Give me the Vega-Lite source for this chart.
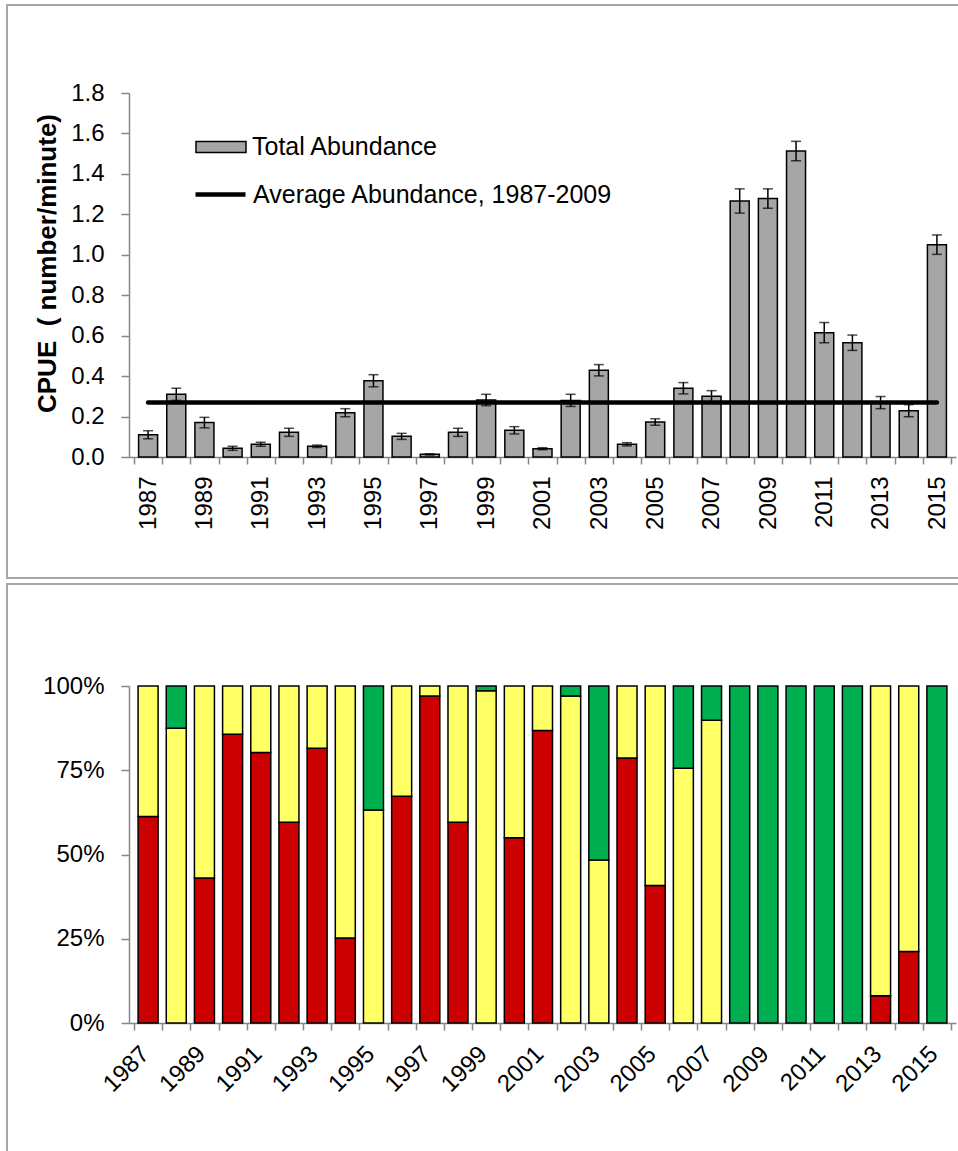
{
  "$schema": "https://vega.github.io/schema/vega-lite/v6.json",
  "padding": {"left": 6, "top": 4, "right": 0, "bottom": 0},
  "background": "white",
  "config": {
    "font": "Liberation Sans",
    "concat": {"spacing": 4},
    "axis": {"domainColor": "#868686", "tickColor": "#868686", "domainWidth": 1.5, "tickWidth": 1.5, "labelColor": "black", "labelFont": "Liberation Sans", "grid": false, "titleColor": "black", "labelFlush": false, "labelOverlap": false, "labelBound": false},
    "legend": {"labelFont": "Liberation Sans", "labelColor": "black", "labelLimit": 0}
  },
  "datasets": {
    "cpue": [
      {"year": 1987, "cpue": 0.110, "lo": 0.090, "hi": 0.130},
      {"year": 1988, "cpue": 0.310, "lo": 0.280, "hi": 0.340},
      {"year": 1989, "cpue": 0.170, "lo": 0.144, "hi": 0.196},
      {"year": 1990, "cpue": 0.043, "lo": 0.033, "hi": 0.053},
      {"year": 1991, "cpue": 0.063, "lo": 0.053, "hi": 0.073},
      {"year": 1992, "cpue": 0.122, "lo": 0.102, "hi": 0.142},
      {"year": 1993, "cpue": 0.053, "lo": 0.047, "hi": 0.059},
      {"year": 1994, "cpue": 0.219, "lo": 0.199, "hi": 0.239},
      {"year": 1995, "cpue": 0.377, "lo": 0.347, "hi": 0.407},
      {"year": 1996, "cpue": 0.102, "lo": 0.087, "hi": 0.117},
      {"year": 1997, "cpue": 0.013, "lo": 0.010, "hi": 0.016},
      {"year": 1998, "cpue": 0.122, "lo": 0.102, "hi": 0.142},
      {"year": 1999, "cpue": 0.282, "lo": 0.254, "hi": 0.310},
      {"year": 2000, "cpue": 0.132, "lo": 0.114, "hi": 0.150},
      {"year": 2001, "cpue": 0.041, "lo": 0.036, "hi": 0.046},
      {"year": 2002, "cpue": 0.280, "lo": 0.250, "hi": 0.310},
      {"year": 2003, "cpue": 0.429, "lo": 0.401, "hi": 0.457},
      {"year": 2004, "cpue": 0.063, "lo": 0.055, "hi": 0.071},
      {"year": 2005, "cpue": 0.173, "lo": 0.157, "hi": 0.189},
      {"year": 2006, "cpue": 0.340, "lo": 0.312, "hi": 0.368},
      {"year": 2007, "cpue": 0.300, "lo": 0.272, "hi": 0.328},
      {"year": 2008, "cpue": 1.266, "lo": 1.206, "hi": 1.326},
      {"year": 2009, "cpue": 1.278, "lo": 1.230, "hi": 1.326},
      {"year": 2010, "cpue": 1.513, "lo": 1.465, "hi": 1.561},
      {"year": 2011, "cpue": 0.615, "lo": 0.565, "hi": 0.665},
      {"year": 2012, "cpue": 0.565, "lo": 0.527, "hi": 0.603},
      {"year": 2013, "cpue": 0.269, "lo": 0.239, "hi": 0.299},
      {"year": 2014, "cpue": 0.229, "lo": 0.199, "hi": 0.259},
      {"year": 2015, "cpue": 1.050, "lo": 1.002, "hi": 1.098}
    ],
    "avg": [{"start": 1987, "end": 2015, "avg": 0.269}],
    "comp": [
      {"year": 1987, "cls": "Class 1", "pct": 61.3}, {"year": 1987, "cls": "Class 2", "pct": 38.7},
      {"year": 1988, "cls": "Class 2", "pct": 87.5}, {"year": 1988, "cls": "Class 3", "pct": 12.5},
      {"year": 1989, "cls": "Class 1", "pct": 43.0}, {"year": 1989, "cls": "Class 2", "pct": 57.0},
      {"year": 1990, "cls": "Class 1", "pct": 85.7}, {"year": 1990, "cls": "Class 2", "pct": 14.3},
      {"year": 1991, "cls": "Class 1", "pct": 80.3}, {"year": 1991, "cls": "Class 2", "pct": 19.7},
      {"year": 1992, "cls": "Class 1", "pct": 59.6}, {"year": 1992, "cls": "Class 2", "pct": 40.4},
      {"year": 1993, "cls": "Class 1", "pct": 81.5}, {"year": 1993, "cls": "Class 2", "pct": 18.5},
      {"year": 1994, "cls": "Class 1", "pct": 25.2}, {"year": 1994, "cls": "Class 2", "pct": 74.8},
      {"year": 1995, "cls": "Class 2", "pct": 63.2}, {"year": 1995, "cls": "Class 3", "pct": 36.8},
      {"year": 1996, "cls": "Class 1", "pct": 67.3}, {"year": 1996, "cls": "Class 2", "pct": 32.7},
      {"year": 1997, "cls": "Class 1", "pct": 97.0}, {"year": 1997, "cls": "Class 2", "pct": 3.0},
      {"year": 1998, "cls": "Class 1", "pct": 59.6}, {"year": 1998, "cls": "Class 2", "pct": 40.4},
      {"year": 1999, "cls": "Class 2", "pct": 98.6}, {"year": 1999, "cls": "Class 3", "pct": 1.4},
      {"year": 2000, "cls": "Class 1", "pct": 55.0}, {"year": 2000, "cls": "Class 2", "pct": 45.0},
      {"year": 2001, "cls": "Class 1", "pct": 86.8}, {"year": 2001, "cls": "Class 2", "pct": 13.2},
      {"year": 2002, "cls": "Class 2", "pct": 97.0}, {"year": 2002, "cls": "Class 3", "pct": 3.0},
      {"year": 2003, "cls": "Class 2", "pct": 48.4}, {"year": 2003, "cls": "Class 3", "pct": 51.6},
      {"year": 2004, "cls": "Class 1", "pct": 78.6}, {"year": 2004, "cls": "Class 2", "pct": 21.4},
      {"year": 2005, "cls": "Class 1", "pct": 40.8}, {"year": 2005, "cls": "Class 2", "pct": 59.2},
      {"year": 2006, "cls": "Class 2", "pct": 75.6}, {"year": 2006, "cls": "Class 3", "pct": 24.4},
      {"year": 2007, "cls": "Class 2", "pct": 89.8}, {"year": 2007, "cls": "Class 3", "pct": 10.2},
      {"year": 2008, "cls": "Class 3", "pct": 100},
      {"year": 2009, "cls": "Class 3", "pct": 100},
      {"year": 2010, "cls": "Class 3", "pct": 100},
      {"year": 2011, "cls": "Class 3", "pct": 100},
      {"year": 2012, "cls": "Class 3", "pct": 100},
      {"year": 2013, "cls": "Class 1", "pct": 8.1}, {"year": 2013, "cls": "Class 2", "pct": 91.9},
      {"year": 2014, "cls": "Class 1", "pct": 21.2}, {"year": 2014, "cls": "Class 2", "pct": 78.8},
      {"year": 2015, "cls": "Class 3", "pct": 100}
    ]
  },
  "vconcat": [
    {
      "width": 951,
      "height": 573,
      "view": {"stroke": "#a6a6a6", "strokeWidth": 2, "strokeDash": [951, 573, 1524], "fill": "white"},
      "encoding": {
        "x": {"field": "year", "type": "quantitative",
          "scale": {"domain": [1986.5, 2015.5], "range": [122, 949], "nice": false, "zero": false},
          "axis": {"orient": "bottom", "offset": -121,
            "values": [1986.5, 1987.5, 1988.5, 1989.5, 1990.5, 1991.5, 1992.5, 1993.5, 1994.5, 1995.5, 1996.5, 1997.5, 1998.5, 1999.5, 2000.5, 2001.5, 2002.5, 2003.5, 2004.5, 2005.5, 2006.5, 2007.5, 2008.5, 2009.5, 2010.5, 2011.5, 2012.5, 2013.5, 2014.5, 2015.5],
            "labelExpr": "datum.value % 2 == 0.5 ? format(datum.value + 0.5, 'd') : ''",
            "labelOffset": 14.26, "labelAngle": -90, "tickSize": 7, "labelFontSize": 24, "labelPadding": 12, "title": null}},
        "y": {"type": "quantitative",
          "scale": {"domain": [0, 1.8], "range": [452, 88], "nice": false, "zero": true},
          "axis": {"orient": "left", "offset": -122, "values": [0, 0.2, 0.4, 0.6, 0.8, 1.0, 1.2, 1.4, 1.6, 1.8], "format": ".1f",
            "tickSize": 8, "labelFontSize": 24, "labelPadding": 17,
            "title": "CPUE\u00a0\u00a0( number/minute)", "titleFontSize": 26, "titleFontWeight": "bold", "titlePadding": 10, "titleY": 258}}
      },
      "layer": [
        {
          "data": {"name": "cpue"},
          "mark": {"type": "bar", "orient": "vertical", "stroke": "black", "strokeWidth": 1.5, "size": 19},
          "encoding": {
            "y": {"field": "cpue"},
            "fill": {"datum": "Total Abundance", "scale": {"range": ["#a6a6a6"]},
              "legend": {"orient": "none", "legendX": 188, "legendY": 116, "title": null, "padding": 0,
                "symbolType": "M-1,-0.22H1V0.22H-1Z", "symbolSize": 2500, "symbolStrokeColor": "black", "symbolStrokeWidth": 1.5,
                "labelFontSize": 25, "labelOffset": 5}}
          }
        },
        {
          "data": {"name": "cpue"},
          "mark": {"type": "rule", "color": "black", "strokeWidth": 1.5},
          "encoding": {
            "y": {"field": "lo"},
            "y2": {"field": "hi"}
          }
        },
        {
          "data": {"name": "cpue"},
          "mark": {"type": "tick", "orient": "horizontal", "color": "black", "size": 10, "thickness": 1.5},
          "encoding": {"y": {"field": "lo"}}
        },
        {
          "data": {"name": "cpue"},
          "mark": {"type": "tick", "orient": "horizontal", "color": "black", "size": 10, "thickness": 1.5},
          "encoding": {"y": {"field": "hi"}}
        },
        {
          "data": {"name": "avg"},
          "mark": {"type": "rule", "strokeWidth": 4.5, "strokeCap": "round"},
          "encoding": {
            "x": {"field": "start"},
            "x2": {"field": "end"},
            "y": {"field": "avg"},
            "stroke": {"datum": "Average Abundance, 1987-2009", "scale": {"range": ["black"]},
              "legend": {"orient": "none", "legendX": 186, "legendY": 162, "title": null, "padding": 0,
                "symbolType": "stroke", "symbolSize": 2500, "symbolStrokeWidth": 4.5,
                "labelFontSize": 25, "labelOffset": 5}}
          }
        }
      ]
    },
    {
      "width": 951,
      "height": 569,
      "view": {"stroke": "#a6a6a6", "strokeWidth": 2, "strokeDash": [951, 1520, 569], "fill": "white"},
      "data": {"name": "comp"},
      "mark": {"type": "bar", "orient": "vertical", "stroke": "black", "strokeWidth": 1.5, "size": 20},
      "encoding": {
        "x": {"field": "year", "type": "quantitative",
          "scale": {"domain": [1986.5, 2015.5], "range": [122, 949], "nice": false, "zero": false},
          "axis": {"orient": "bottom", "offset": -130,
            "values": [1986.5, 1987.5, 1988.5, 1989.5, 1990.5, 1991.5, 1992.5, 1993.5, 1994.5, 1995.5, 1996.5, 1997.5, 1998.5, 1999.5, 2000.5, 2001.5, 2002.5, 2003.5, 2004.5, 2005.5, 2006.5, 2007.5, 2008.5, 2009.5, 2010.5, 2011.5, 2012.5, 2013.5, 2014.5, 2015.5],
            "labelExpr": "datum.value % 2 == 0.5 ? format(datum.value + 0.5, 'd') : ''",
            "labelOffset": 11, "labelAngle": -45, "labelAlign": "right", "labelBaseline": "middle", "tickSize": 7, "labelFontSize": 24, "labelPadding": 20, "title": null}},
        "y": {"field": "pct", "type": "quantitative", "stack": "zero",
          "scale": {"domain": [0, 100], "range": [439, 102], "nice": false, "zero": true},
          "axis": {"orient": "left", "offset": -122, "values": [0, 25, 50, 75, 100], "labelExpr": "datum.value + '%'",
            "tickSize": 8, "labelFontSize": 24, "labelPadding": 17, "title": null}},
        "color": {"field": "cls", "type": "nominal", "scale": {"domain": ["Class 1", "Class 2", "Class 3"], "range": ["#CC0000", "#FFFF66", "#00B050"]}, "legend": null},
        "order": {"field": "cls", "sort": "ascending"}
      }
    }
  ]
}
